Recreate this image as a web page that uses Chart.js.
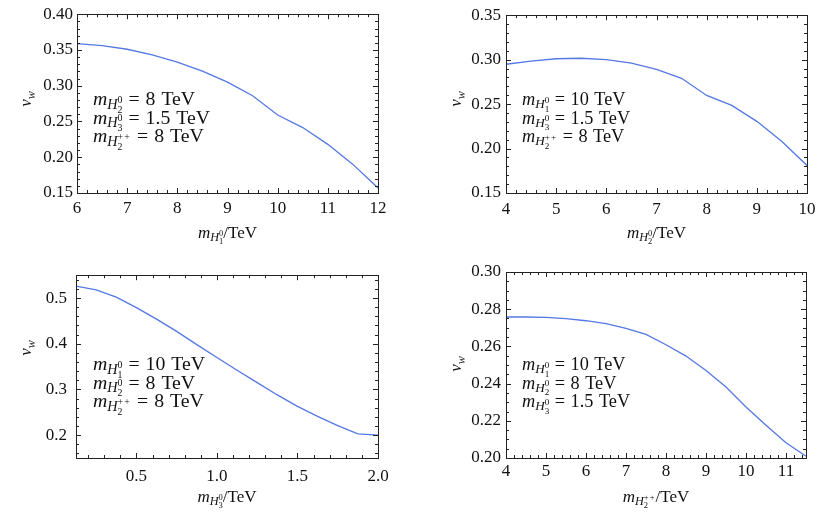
<!DOCTYPE html>
<html><head><meta charset="utf-8">
<script src="https://cdn.jsdelivr.net/npm/chart.js@4.4.1/dist/chart.umd.min.js"></script>
<style>
html,body{margin:0;padding:0;background:#fff;width:830px;height:513px;overflow:hidden;position:relative}
canvas{position:absolute}
</style></head>
<body>
<canvas id="c1" width="415" height="256" style="left:0;top:0"></canvas>
<canvas id="c2" width="415" height="256" style="left:415px;top:0"></canvas>
<canvas id="c3" width="415" height="257" style="left:0;top:256px"></canvas>
<canvas id="c4" width="415" height="257" style="left:415px;top:256px"></canvas>
<script>
// ---- data ----
const P1_X = [6,6.5,7,7.5,8,8.5,9,9.5,10,10.5,11,11.5,12];
const P1_V = [0.359,0.356,0.351,0.343,0.333,0.3205,0.305,0.286,0.259,0.2415,0.218,0.190,0.157];
const P1_XTICKS = [6,7,8,9,10,11,12];
const P1_XLABELS = ['6','7','8','9','10','11','12'];
const P1_YTICKS = [0.15,0.20,0.25,0.30,0.35,0.40];
const P1_YLABELS = ['0.15','0.20','0.25','0.30','0.35','0.40'];

const P2_X = [4,4.5,5,5.5,6,6.5,7,7.5,8,8.5,9,9.5,10];
const P2_V = [0.2948,0.2984,0.301,0.3016,0.300,0.296,0.289,0.279,0.2597,0.2486,0.2306,0.208,0.181];
const P2_XTICKS = [4,5,6,7,8,9,10];
const P2_XLABELS = ['4','5','6','7','8','9','10'];
const P2_YTICKS = [0.15,0.20,0.25,0.30,0.35];
const P2_YLABELS = ['0.15','0.20','0.25','0.30','0.35'];

const P3_X = [0.125,0.25,0.375,0.5,0.625,0.75,0.875,1.0,1.125,1.25,1.375,1.5,1.625,1.75,1.875,2.0];
const P3_V = [0.526,0.518,0.502,0.479,0.454,0.427,0.398,0.370,0.342,0.315,0.288,0.263,0.241,0.221,0.203,0.200];
const P3_XTICKS = [0.5,1.0,1.5,2.0];
const P3_XLABELS = ['0.5','1.0','1.5','2.0'];
const P3_YTICKS = [0.2,0.3,0.4,0.5];
const P3_YLABELS = ['0.2','0.3','0.4','0.5'];

const P4_X = [4,4.5,5,5.5,6,6.5,7,7.5,8,8.5,9,9.5,10,10.5,11,11.5];
const P4_V = [0.2758,0.2758,0.2756,0.2749,0.2738,0.2722,0.2697,0.2665,0.2609,0.2548,0.2471,0.2382,0.2274,0.2176,0.2082,0.2009];
const P4_XTICKS = [4,5,6,7,8,9,10,11];
const P4_XLABELS = ['4','5','6','7','8','9','10','11'];
const P4_YTICKS = [0.20,0.22,0.24,0.26,0.28,0.30];
const P4_YLABELS = ['0.20','0.22','0.24','0.26','0.28','0.30'];

// annotation texts: [subscript of m, sub-sub, sup, rest]
const P1_NOTES = [['H','2','0','= 8 TeV'],['H','3','0','= 1.5 TeV'],['H','2','++','= 8 TeV']];
const P2_NOTES = [['H','1','0','= 10 TeV'],['H','3','0','= 1.5 TeV'],['H','2','++','= 8 TeV']];
const P3_NOTES = [['H','1','0','= 10 TeV'],['H','2','0','= 8 TeV'],['H','2','++','= 8 TeV']];
const P4_NOTES = [['H','1','0','= 10 TeV'],['H','2','0','= 8 TeV'],['H','3','0','= 1.5 TeV']];
const P1_XTITLE = ['H','1','0','/TeV'];
const P2_XTITLE = ['H','2','0','/TeV'];
const P3_XTITLE = ['H','3','0','/TeV'];
const P4_XTITLE = ['H','2','++','/TeV'];

// ---- drawing helpers ----
const FF = '"Liberation Serif", "DejaVu Serif", serif';
const LINE = 'rgb(84,120,228)';
const FRAME = '#222';
const INK = '#111';

function supWidth(ctx, sp, S){
  ctx.font = `${0.5*S}px ${FF}`;
  if (sp === '++') return 2*ctx.measureText('+').width + 0.12*S;
  return ctx.measureText(sp).width;
}
function layoutMass(ctx, spec, S){
  const [h, ss, sp, rest] = spec;
  ctx.font = `italic ${S}px ${FF}`; const wm = ctx.measureText('m').width;
  ctx.font = `italic ${0.72*S}px ${FF}`; const wh = ctx.measureText(h).width;
  ctx.font = `${0.5*S}px ${FF}`;
  const ws = Math.max(ctx.measureText(ss).width, supWidth(ctx, sp, S));
  ctx.font = `${S}px ${FF}`;
  const toks = rest.startsWith('/') ? [rest] : rest.split(' ');
  const gap = rest.startsWith('/') ? 0 : 0.3*S;
  let wr = 0;
  toks.forEach(t => { wr += gap + ctx.measureText(t).width; });
  return {wm, wh, ws, toks, gap, total: wm + wh + ws + wr};
}
function drawMass(ctx, x, y, spec, S, center){
  const [h, ss, sp] = spec;
  const L = layoutMass(ctx, spec, S);
  let cx = center ? x - L.total/2 : x;
  ctx.save();
  ctx.fillStyle = INK;
  ctx.textBaseline = 'alphabetic'; ctx.textAlign = 'left';
  ctx.font = `italic ${S}px ${FF}`; ctx.fillText('m', cx, y); cx += L.wm;
  const hb = y + 0.19*S;
  ctx.font = `italic ${0.72*S}px ${FF}`; ctx.fillText(h, cx, hb); cx += L.wh;
  ctx.font = `${0.5*S}px ${FF}`;
  if (sp === '++') {
    const pw = ctx.measureText('+').width;
    ctx.fillText('+', cx, hb - 0.3*S);
    ctx.fillText('+', cx + pw + 0.06*S, hb - 0.3*S);
  } else {
    ctx.fillText(sp, cx, hb - 0.3*S);
  }
  ctx.fillText(ss, cx, hb + 0.19*S);
  cx += L.ws;
  ctx.font = `${S}px ${FF}`;
  L.toks.forEach(t => { cx += L.gap; ctx.fillText(t, cx, y); cx += ctx.measureText(t).width; });
  ctx.restore();
}
function drawVw(ctx, x, y, S){
  ctx.save();
  ctx.translate(x, y); ctx.rotate(-Math.PI/2);
  ctx.fillStyle = INK; ctx.textBaseline = 'alphabetic';
  ctx.font = `italic ${S}px ${FF}`; const wv = ctx.measureText('v').width;
  ctx.font = `italic ${0.72*S}px ${FF}`; const ww = ctx.measureText('w').width;
  let sx = -(wv + ww)/2;
  ctx.font = `italic ${S}px ${FF}`; ctx.fillText('v', sx, 0);
  ctx.font = `italic ${0.72*S}px ${FF}`; ctx.fillText('w', sx + wv, 0.22*S);
  ctx.restore();
}

function makePanel(id, xs, vs, xr, yr, xt, xl, yt, yl, xminor, yminor, box, notes, note, xtitle, xtitleY, ytitleX, ytitleY){
  const el = document.getElementById(id);
  const pts = xs.map((x,i)=>({x, y: vs[i]}));
  const deco = {
    id: 'deco_'+id,
    afterDraw(chart){
      const ctx = chart.ctx, a = chart.chartArea;
      const sx = chart.scales.x, sy = chart.scales.y;
      ctx.save();
      ctx.strokeStyle = FRAME; ctx.lineWidth = 1;
      ctx.strokeRect(Math.round(a.left)+0.5, Math.round(a.top)+0.5, Math.round(a.right-a.left), Math.round(a.bottom-a.top));
      const eps = 1e-9;
      function ticksFor(min, max, step){
        const out = []; let k = Math.ceil(min/step - eps);
        for(;k*step <= max + eps; k++) out.push(+(k*step).toFixed(6));
        return out;
      }
      ctx.beginPath();
      ticksFor(xr[0], xr[1], xminor).forEach(v=>{
        const major = xt.some(t=>Math.abs(t-v)<1e-6);
        const Lt = major ? 5 : 3;
        const px = Math.round(sx.getPixelForValue(v))+0.5;
        ctx.moveTo(px, a.bottom); ctx.lineTo(px, a.bottom - Lt);
        ctx.moveTo(px, a.top); ctx.lineTo(px, a.top + Lt);
      });
      ticksFor(yr[0], yr[1], yminor).forEach(v=>{
        const major = yt.some(t=>Math.abs(t-v)<1e-6);
        const Lt = major ? 5 : 3;
        const py = Math.round(sy.getPixelForValue(v))+0.5;
        ctx.moveTo(a.left, py); ctx.lineTo(a.left + Lt, py);
        ctx.moveTo(a.right, py); ctx.lineTo(a.right - Lt, py);
      });
      ctx.stroke();
      ctx.restore();
      notes.forEach((n,i)=> drawMass(ctx, note.x, note.y + i*18.5, n, note.s, false));
      drawMass(ctx, (a.left+a.right)/2, xtitleY, xtitle, 17, true);
      drawVw(ctx, ytitleX, ytitleY, 17);
    }
  };
  return new Chart(el, {
    type: 'line',
    data: { datasets: [{ data: pts, borderColor: LINE, borderWidth: 1.3, pointRadius: 0, tension: 0, fill: false }] },
    options: {
      responsive: false, animation: false, devicePixelRatio: 1,
      plugins: { legend: {display:false}, tooltip: {enabled:false} },
      layout: { padding: { left: 0, right: box.r, top: box.t, bottom: 0 } },
      scales: {
        x: { type: 'linear', min: xr[0], max: xr[1],
             grid: {display:false, drawTicks:false}, border: {display:false},
             afterBuildTicks: s => { s.ticks = xt.map(v=>({value:v})); },
             afterFit: s => { s.height = box.h; },
             ticks: { padding: box.xp, color: INK, font: {family: FF, size: 17}, maxRotation: 0, autoSkip: false,
                      callback: (v, i) => xl[i] } },
        y: { type: 'linear', min: yr[0], max: yr[1],
             grid: {display:false, drawTicks:false}, border: {display:false},
             afterBuildTicks: s => { s.ticks = yt.map(v=>({value:v})); },
             afterFit: s => { s.width = box.l; },
             ticks: { padding: box.yp, color: INK, font: {family: FF, size: 17}, autoSkip: false,
                      callback: (v, i) => yl[i] } }
      }
    },
    plugins: [deco]
  });
}

makePanel('c1', P1_X, P1_V, [6,12], [0.15,0.40], P1_XTICKS, P1_XLABELS, P1_YTICKS, P1_YLABELS, 0.2, 0.01,
  {l:77, r:37, t:7, h:63, xp:5, yp:4}, P1_NOTES, {x:93, y:105, s:19.8}, P1_XTITLE, 238, 31, 99);
makePanel('c2', P2_X, P2_V, [4,10], [0.15,0.35], P2_XTICKS, P2_XLABELS, P2_YTICKS, P2_YLABELS, 0.2, 0.01,
  {l:91, r:23, t:7, h:63, xp:6, yp:5}, P2_NOTES, {x:107, y:105, s:18.3}, P2_XTITLE, 238, 46, 99);
makePanel('c3', P3_X, P3_V, [0.125,2.0], [0.15,0.55], P3_XTICKS, P3_XLABELS, P3_YTICKS, P3_YLABELS, 0.1, 0.02,
  {l:76, r:37, t:16, h:55, xp:8, yp:9}, P3_NOTES, {x:93, y:114, s:19.8}, P3_XTITLE, 246, 31, 92);
makePanel('c4', P4_X, P4_V, [4,11.5], [0.20,0.30], P4_XTICKS, P4_XLABELS, P4_YTICKS, P4_YLABELS, 0.2, 0.005,
  {l:91, r:24, t:16, h:55, xp:3, yp:5}, P4_NOTES, {x:107, y:114, s:18.3}, P4_XTITLE, 246, 46, 108);
</script>
</body></html>
